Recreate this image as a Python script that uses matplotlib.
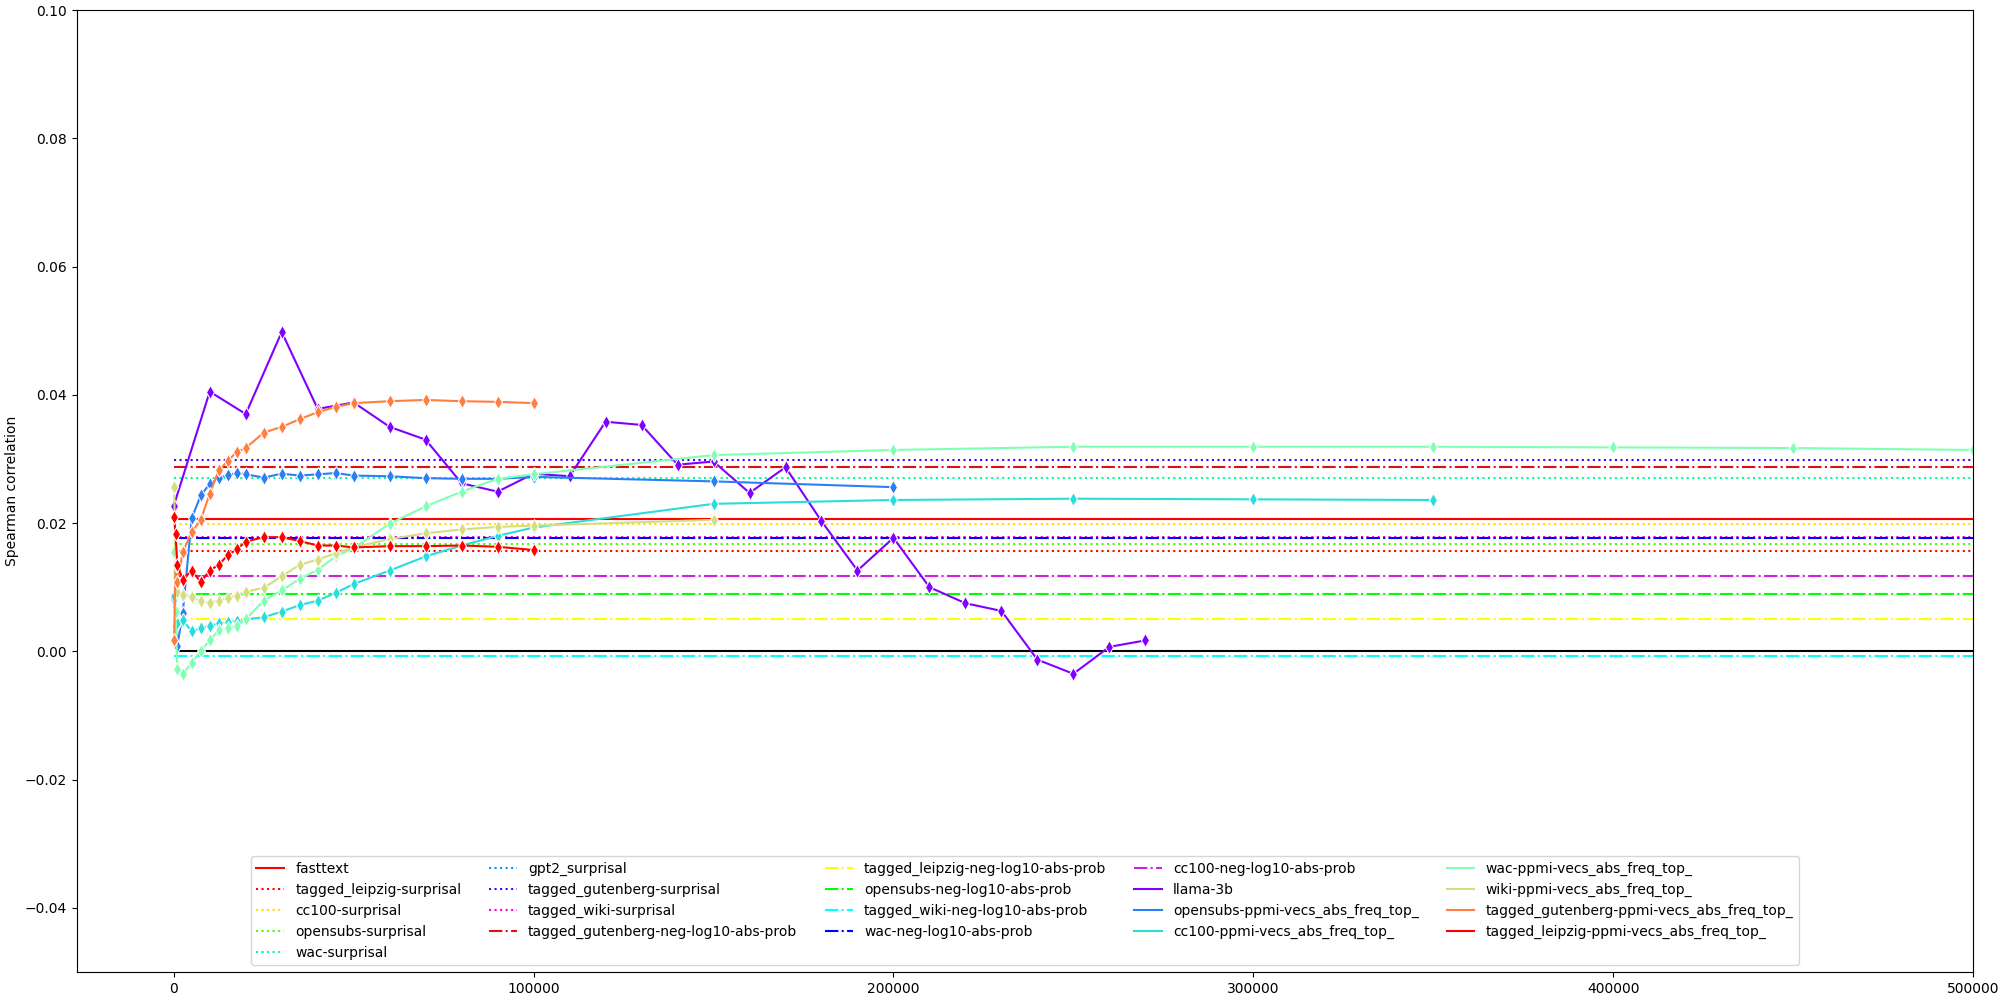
import matplotlib
matplotlib.use('Agg')
import matplotlib.pyplot as plt

## horizontal baselines (single value per model)
surprisal_names = ['tagged_leipzig-surprisal', 'cc100-surprisal', 'opensubs-surprisal', 'wac-surprisal',
                   'gpt2_surprisal', 'tagged_gutenberg-surprisal', 'tagged_wiki-surprisal']
surprisal_vals = [0.0157, 0.0198, 0.0167, 0.0271, 0.0177, 0.0299, 0.0178]
surprisal_cols = ['#ff0000', '#ffdb00', '#49ff00', '#00ff92', '#0092ff', '#4900ff', '#ff00db']

neglog_names = ['tagged_gutenberg-neg-log10-abs-prob', 'tagged_leipzig-neg-log10-abs-prob',
                'opensubs-neg-log10-abs-prob', 'tagged_wiki-neg-log10-abs-prob',
                'wac-neg-log10-abs-prob', 'cc100-neg-log10-abs-prob']
neglog_vals = [0.0287, 0.0051, 0.0089, -0.0008, 0.0177, 0.0118]
neglog_cols = ['#dd1010', '#ffff00', '#00ff00', '#00ffff', '#0000ff', '#d020e0']

fasttext_val = 0.0207

## curves
llama_x = [0] + list(range(10000, 280000, 10000))
llama_y = [0.0227, 0.0405, 0.0370, 0.0498, 0.0378, 0.0388, 0.0350, 0.0330, 0.0262, 0.0249,
           0.0277, 0.0273, 0.0358, 0.0353, 0.0291, 0.0296, 0.0247, 0.0287, 0.0203, 0.0126,
           0.0177, 0.0100, 0.0075, 0.0063, -0.0013, -0.0035, 0.0007, 0.0017]

top_x = [100, 500, 1000, 2500, 5000, 7500, 10000, 12500, 15000, 17500, 20000, 25000, 30000,
         35000, 40000, 45000, 50000, 60000, 70000, 80000, 90000, 100000,
         150000, 200000, 250000, 300000, 350000, 400000, 450000, 500000]

opensubs_ppmi = [0.0082, 0.0040, 0.0009, 0.0060, 0.0208, 0.0243, 0.0261, 0.0270, 0.0275, 0.0278,
                 0.0276, 0.0271, 0.0277, 0.0274, 0.0276, 0.0278, 0.0274, 0.0273, 0.0270, 0.0269,
                 0.0269, 0.0272, 0.0265, 0.0256]
cc100_ppmi = [0.0086, 0.0065, 0.0044, 0.0049, 0.0031, 0.0036, 0.0040, 0.0044, 0.0045, 0.0048,
              0.0050, 0.0053, 0.0062, 0.0072, 0.0079, 0.0091, 0.0105, 0.0126, 0.0148, 0.0165,
              0.0180, 0.0193, 0.0230, 0.0236, 0.0238, 0.0237, 0.0236]
wac_ppmi = [0.0155, 0.0062, -0.0028, -0.0035, -0.0018, 0.0001, 0.0017, 0.0033, 0.0036, 0.0039,
            0.0050, 0.0079, 0.0095, 0.0113, 0.0127, 0.0148, 0.0161, 0.0199, 0.0226, 0.0249,
            0.0269, 0.0276, 0.0306, 0.0314, 0.0319, 0.0319, 0.0319, 0.0318, 0.0317, 0.0314]
wiki_ppmi = [0.0257, 0.0140, 0.0092, 0.0088, 0.0085, 0.0078, 0.0076, 0.0079, 0.0083, 0.0087,
             0.0093, 0.0099, 0.0117, 0.0135, 0.0143, 0.0153, 0.0162, 0.0175, 0.0184, 0.0190,
             0.0194, 0.0196, 0.0205]
gutenberg_ppmi = [0.0018, 0.0135, 0.0108, 0.0155, 0.0186, 0.0205, 0.0246, 0.0282, 0.0297, 0.0311,
                  0.0317, 0.0341, 0.0350, 0.0362, 0.0373, 0.0381, 0.0387, 0.0390, 0.0392, 0.0390,
                  0.0389, 0.0387]
leipzig_ppmi = [0.0210, 0.0183, 0.0135, 0.0112, 0.0126, 0.0108, 0.0126, 0.0135, 0.0150, 0.0159,
                0.0171, 0.0178, 0.0178, 0.0172, 0.0165, 0.0165, 0.0162, 0.0164, 0.0164, 0.0165,
                0.0163, 0.0158]

ppmi_names = ['opensubs-ppmi-vecs_abs_freq_top_', 'cc100-ppmi-vecs_abs_freq_top_',
              'wac-ppmi-vecs_abs_freq_top_', 'wiki-ppmi-vecs_abs_freq_top_',
              'tagged_gutenberg-ppmi-vecs_abs_freq_top_', 'tagged_leipzig-ppmi-vecs_abs_freq_top_']
ppmi_vals = [opensubs_ppmi, cc100_ppmi, wac_ppmi, wiki_ppmi, gutenberg_ppmi, leipzig_ppmi]

xmax = 500000

fig, ax = plt.subplots(figsize=(20, 10), dpi=100)
fig.subplots_adjust(left=0.0383, right=0.9865, bottom=0.028, top=0.99)

ax.plot([0, xmax], [fasttext_val] * 2, color='red', lw=1.5, label='fasttext')
for n, v, c in zip(surprisal_names, surprisal_vals, surprisal_cols):
  ax.plot([0, xmax], [v, v], ls=':', color=c, lw=1.5, label=n)
for n, v, c in zip(neglog_names, neglog_vals, neglog_cols):
  ax.plot([0, xmax], [v, v], ls='-.', color=c, lw=1.5, label=n)
ax.plot([1500, xmax], [0, 0], color='black', lw=1.5)

# rainbow for the curves (llama first)
cmap = plt.get_cmap('rainbow')
mk = dict(marker='d', ms=7, mec='white', mew=0.75, lw=1.5)
ax.plot(llama_x, llama_y, color=cmap(0.0), label='llama-3b', **mk)
for i, (n, ys) in enumerate(zip(ppmi_names, ppmi_vals)):
  ax.plot(top_x[:len(ys)], ys, color=cmap((i + 1) / 6), label=n, **mk)

ax.set_xlim(-27000, xmax)
ax.set_ylim(-0.05, 0.10)
ax.set_ylabel('Spearman correlation')
leg = ax.legend(loc='lower center', ncol=5)
for h in leg.get_lines():
  h.set_marker('')  # legend shows plain lines only

fig.savefig('out.png')
